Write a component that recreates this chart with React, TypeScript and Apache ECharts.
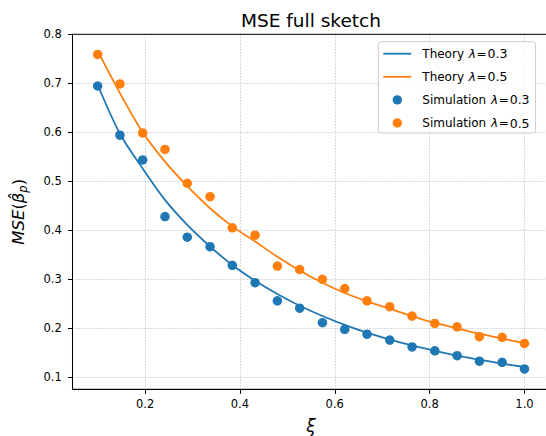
import React, { useEffect, useRef } from "react";
import * as echarts from "echarts";

const xiValues = [0.1, 0.147, 0.195, 0.242, 0.289, 0.337, 0.384, 0.432, 0.479, 0.526, 0.574, 0.621, 0.668, 0.716, 0.763, 0.811, 0.858, 0.905, 0.953, 1.0];
const theoryLow = [0.697, 0.597, 0.526, 0.462, 0.411, 0.367, 0.329, 0.297, 0.270, 0.246, 0.225, 0.207, 0.191, 0.177, 0.165, 0.154, 0.144, 0.136, 0.128, 0.121];
const theoryHigh = [0.766, 0.680, 0.600, 0.540, 0.490, 0.445, 0.408, 0.377, 0.346, 0.318, 0.293, 0.272, 0.255, 0.240, 0.225, 0.211, 0.200, 0.189, 0.179, 0.170];
const simLow = [0.6945, 0.594, 0.5435, 0.428, 0.386, 0.3665, 0.3286, 0.293, 0.256, 0.241, 0.2114, 0.198, 0.188, 0.176, 0.162, 0.154, 0.144, 0.133, 0.1306, 0.117];
const simHigh = [0.759, 0.6986, 0.5986, 0.565, 0.496, 0.4686, 0.405, 0.390, 0.327, 0.320, 0.300, 0.281, 0.256, 0.244, 0.225, 0.210, 0.203, 0.183, 0.1816, 0.169];
const xTicks = [0.2, 0.4, 0.6, 0.8, 1.0];
const yTicks = [0.1, 0.2, 0.3, 0.4, 0.5, 0.6, 0.7, 0.8];
const seriesNames = ["Theory λ=0.3", "Theory λ=0.5", "Simulation λ=0.3", "Simulation λ=0.5"];
const titleText = "MSE full sketch";

const BLUE = "#1f77b4";
const ORANGE = "#ff7f0e";
const FONT = "DejaVu Sans";

const pair = (ys: number[]) => xiValues.map((x, i) => [x, ys[i]]);

const lineIcon = "path://M0,0M34,10M0,4.1h28v1.8h-28z";
const dotIcon = "path://M0,0M34,10M9.3,5a4.7,4.7 0 1,0 9.4,0a4.7,4.7 0 1,0 -9.4,0z";

export default function App() {
  const ref = useRef<HTMLDivElement>(null);
  useEffect(() => {
    if (!ref.current) return;
    const chart = echarts.init(ref.current, undefined, { renderer: "svg" });
    const gridLine = { show: true, lineStyle: { color: "#b8b8b8", width: 0.9, type: [1.2, 1.8] as any } };
    const tickLabel = { color: "#000", fontSize: 11.5, fontFamily: FONT };
    chart.setOption({
      animation: false,
      backgroundColor: "#ffffff",
      title: {
        text: titleText,
        left: 311,
        top: 10.5,
        padding: 0,
        textAlign: "center",
        textStyle: { fontSize: 18.5, fontWeight: "normal", color: "#000", fontFamily: FONT },
      },
      grid: {
        left: 72.5,
        right: -3.6,
        top: 34.3,
        bottom: 46.7,
        containLabel: false,
        outerBoundsMode: "none",
        show: true,
        z: 3,
        borderColor: "#000",
        borderWidth: 1,
        backgroundColor: "transparent",
      },
      legend: {
        orient: "vertical",
        left: 378.3,
        top: 41.7,
        padding: [5, 6, 3, 5],
        itemWidth: 34,
        itemHeight: 10,
        itemGap: 9.1,
        backgroundColor: "rgba(255,255,255,0.8)",
        borderColor: "#cccccc",
        borderWidth: 1,
        borderRadius: 3,
        itemStyle: { borderWidth: 0 },
        selectedMode: false,
        z: 6,
        data: [
          { name: seriesNames[0], icon: lineIcon },
          { name: seriesNames[1], icon: lineIcon },
          { name: seriesNames[2], icon: dotIcon },
          { name: seriesNames[3], icon: dotIcon },
        ],
        formatter: (name: string) => {
          const parts = name.split(" λ=");
          return `${parts[0]} {i|λ}{e|=}{n|${parts[1]}}`;
        },
        textStyle: {
          color: "#000",
          fontSize: 12,
          fontFamily: FONT,
          lineHeight: 14,
          rich: {
            i: { fontSize: 12, fontFamily: FONT, fontStyle: "italic", color: "#000", lineHeight: 14, padding: [0, 0.5, 0, 1] },
            e: { fontSize: 12, fontFamily: FONT, color: "#000", lineHeight: 14, padding: [0, 1, 0, 0] },
            n: { fontSize: 12.5, fontFamily: FONT, color: "#000", lineHeight: 14 },
          },
        },
      },
      xAxis: {
        type: "value",
        min: 0.047,
        max: 1.053,
        splitNumber: 5,
        name: "ξ",
        nameLocation: "middle",
        nameGap: 28.5,
        nameTextStyle: { fontSize: 17, fontStyle: "italic", color: "#000", fontFamily: FONT },
        axisLine: { show: true, lineStyle: { color: "#000", width: 1 } },
        axisTick: { show: true, length: 4.5, lineStyle: { color: "#000", width: 1 }, customValues: xTicks },
        axisLabel: { ...tickLabel, margin: 9, customValues: xTicks, formatter: (v: number) => v.toFixed(1) },
        splitLine: gridLine,
      },
      yAxis: {
        type: "value",
        min: 0.0755,
        max: 0.8,
        splitNumber: 7,
        name: "{i|MSE}{n|(}{i|β̂}{s|p}{n|)}",
        nameLocation: "middle",
        nameRotate: 90,
        nameGap: 43.3,
        nameTextStyle: {
          fontSize: 16.5,
          color: "#000",
          fontFamily: FONT,
          rich: {
            i: { fontSize: 16.5, fontStyle: "italic", fontFamily: FONT, color: "#000" },
            n: { fontSize: 16.5, fontFamily: FONT, color: "#000" },
            s: { fontSize: 11.5, fontStyle: "italic", fontFamily: FONT, color: "#000", padding: [9, 0, 0, 0] },
          },
        },
        axisLine: { show: true, lineStyle: { color: "#000", width: 1 } },
        axisTick: { show: true, length: 4.5, lineStyle: { color: "#000", width: 1 }, customValues: yTicks },
        axisLabel: { ...tickLabel, margin: 10.8, customValues: yTicks, formatter: (v: number) => v.toFixed(1) },
        splitLine: gridLine,
      },
      series: [
        {
          name: seriesNames[0],
          type: "line",
          data: pair(theoryLow),
          smooth: 0.3,
          symbol: "none",
          showSymbol: false,
          color: BLUE,
          lineStyle: { color: BLUE, width: 1.8 },
          itemStyle: { color: BLUE },
        },
        {
          name: seriesNames[1],
          type: "line",
          data: pair(theoryHigh),
          smooth: 0.3,
          symbol: "none",
          showSymbol: false,
          color: ORANGE,
          lineStyle: { color: ORANGE, width: 1.8 },
          itemStyle: { color: ORANGE },
        },
        {
          name: seriesNames[2],
          type: "scatter",
          data: pair(simLow),
          symbol: "circle",
          symbolSize: 9.5,
          itemStyle: { color: BLUE, opacity: 1 },
        },
        {
          name: seriesNames[3],
          type: "scatter",
          data: pair(simHigh),
          symbol: "circle",
          symbolSize: 9.5,
          itemStyle: { color: ORANGE, opacity: 1 },
        },
      ],
    });
    return () => chart.dispose();
  }, []);
  return (
    <div
      ref={ref}
      style={{ position: "fixed", left: 0, top: 0, width: 546, height: 436, background: "#fff" }}
    />
  );
}
